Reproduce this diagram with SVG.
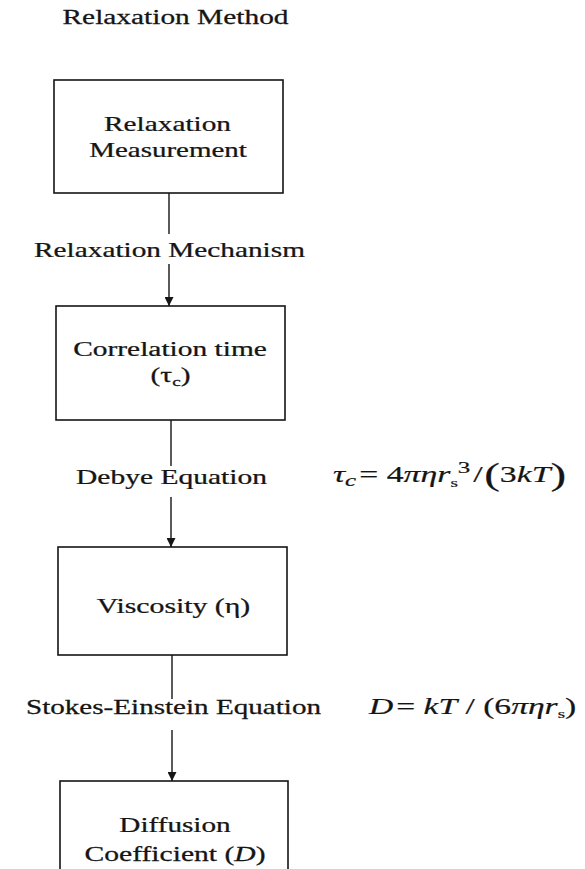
<svg xmlns="http://www.w3.org/2000/svg" width="585" height="869" viewBox="0 0 585 869">
<defs>
<style>
.t{font-family:"Liberation Serif","Times New Roman",serif;font-size:20px;fill:#151515;stroke:#151515;stroke-width:0.25;text-anchor:middle}
.eq{font-family:"Liberation Serif","Times New Roman",serif;font-size:23px;fill:#151515;stroke:#151515;stroke-width:0.2}
.box{fill:#fff;stroke:#151515;stroke-width:1.6}
.ln{stroke:#151515;stroke-width:1.4;fill:none}
</style>
<marker id="ah" viewBox="0 0 10 10" refX="10" refY="5" markerWidth="10" markerHeight="9" markerUnits="userSpaceOnUse" orient="auto">
<path d="M0,0 L10,5 L0,10 z" fill="#151515"/>
</marker>
</defs>
<rect width="585" height="869" fill="#fff"/>
<text class="t" transform="translate(175.5,24) scale(1.47,1)">Relaxation Method</text>

<g id="connectors">
<line class="ln" x1="169" y1="193" x2="169" y2="234"/>
<line class="ln" x1="169" y1="264" x2="169" y2="306" marker-end="url(#ah)"/>
<line class="ln" x1="171" y1="420" x2="171" y2="466" stroke-width="1"/>
<line class="ln" x1="171" y1="497" x2="171" y2="547" stroke-width="1" marker-end="url(#ah)"/>
<line class="ln" x1="172" y1="655" x2="172" y2="699" stroke-width="1"/>
<line class="ln" x1="172" y1="730" x2="172" y2="781" marker-end="url(#ah)"/>
<text class="t" transform="translate(169.5,257) scale(1.465,1)">Relaxation Mechanism</text>
<text class="t" transform="translate(171.5,484) scale(1.476,1)">Debye Equation</text>
<text class="t" transform="translate(173.5,714) scale(1.456,1)">Stokes-Einstein Equation</text>
</g>

<g id="n1">
<rect class="box" x="54" y="80" width="229" height="113"/>
<text class="t" transform="translate(167.5,131) scale(1.465,1)">Relaxation</text>
<text class="t" transform="translate(168,157) scale(1.45,1)">Measurement</text>
</g>

<g id="n2">
<rect class="box" x="56" y="306" width="229" height="114"/>
<text class="t" transform="translate(170,356) scale(1.473,1)">Correlation time</text>
<text class="t" transform="translate(170.5,382) scale(1.47,1)">(τ<tspan font-size="13" dy="4">c</tspan><tspan dy="-4">)</tspan></text>
</g>

<g id="n3">
<rect class="box" x="58" y="547" width="229" height="108"/>
<text class="t" transform="translate(173.5,613) scale(1.49,1)">Viscosity (η)</text>
</g>

<g id="n4">
<rect class="box" x="60" y="781" width="228" height="100"/>
<text class="t" transform="translate(175,832) scale(1.46,1)">Diffusion</text>
<text class="t" transform="translate(175,861) scale(1.48,1)">Coefficient (<tspan font-style="italic">D</tspan>)</text>
</g>

<g id="eq1">
<text class="eq" transform="translate(333,482) scale(1.47,1)"><tspan font-style="italic">τ</tspan><tspan font-style="italic" font-size="17" dy="4">c</tspan><tspan dy="-4" dx="2">= 4</tspan><tspan font-style="italic">πηr</tspan><tspan font-size="13" dy="5">s</tspan><tspan font-size="17" dy="-14">3</tspan><tspan dy="9" dx="2">/</tspan><tspan font-size="32" dy="3" dx="1">(</tspan><tspan dy="-3">3</tspan><tspan font-style="italic">kT</tspan><tspan font-size="32" dy="3">)</tspan></text>
</g>

<g id="eq2">
<text class="eq" transform="translate(369,714) scale(1.46,1)"><tspan font-style="italic">D</tspan><tspan dx="2">= </tspan><tspan font-style="italic">kT</tspan><tspan> / (6</tspan><tspan font-style="italic">πηr</tspan><tspan font-size="13" dy="4">s</tspan><tspan dy="-4">)</tspan></text>
</g>
</svg>
